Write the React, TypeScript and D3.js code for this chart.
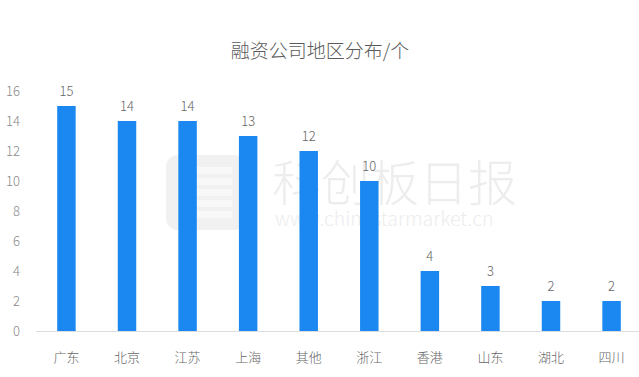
import React from "react";
import * as d3 from "d3";

const categories = ["广东", "北京", "江苏", "上海", "其他", "浙江", "香港", "山东", "湖北", "四川"];
const values = [15, 14, 14, 13, 12, 10, 4, 3, 2, 2];
const yTicks = [0, 2, 4, 6, 8, 10, 12, 14, 16];
const title = "融资公司地区分布/个";

const W = 639;
const H = 377;
const FONT = "'Noto Sans CJK SC', 'Noto Sans', sans-serif";

export default function App() {
  const x = d3.scaleBand<string>().domain(categories).range([36, 642]).paddingInner(0.695).paddingOuter(0.35);
  const y = d3.scaleLinear().domain([0, 16]).range([331, 91]);
  return (
    <svg width={W} height={H} style={{ position: "absolute", left: 0, top: 0 }} fontFamily={FONT} fontWeight={300}>
      <rect width={W} height={H} fill="#fff" />
      {/* watermark */}
      <g opacity={0.5}>
        <rect x={166} y={155} width={80} height={75} rx={12} fill="#e4e4e4" />
        {[0, 1, 2, 3, 4].map((i) => (
          <rect key={i} x={180} y={167 + i * 11} width={52} height={7} fill="#f3f3f3" />
        ))}
        <text x={272} y={201} fontSize={49} fill="#dcdcdc">科创板日报</text>
        <text x={275} y={226} fontSize={19.5} fill="#dcdcdc">www.chinastarmarket.cn</text>
      </g>
      <text x={320} y={58} textAnchor="middle" fontSize={19} fill="#5a5a5a">{title}</text>
      {yTicks.map((t) => (
        <text key={t} x={20} y={y(t)} dy="0.35em" textAnchor="end" fontSize={13} fill="#8a8a8a">{t}</text>
      ))}
      <line x1={36} x2={639} y1={331.5} y2={331.5} stroke="#ddd" />
      {categories.map((c, i) => (
        <g key={c}>
          <rect x={x(c)} y={y(values[i])} width={x.bandwidth()} height={y(0) - y(values[i])} fill="#1a88f0" />
          <text x={(x(c) as number) + x.bandwidth() / 2} y={y(values[i]) - 10} textAnchor="middle" fontSize={13} fill="#666">{values[i]}</text>
          <text x={(x(c) as number) + x.bandwidth() / 2} y={362} textAnchor="middle" fontSize={13} fill="#666">{c}</text>
        </g>
      ))}
    </svg>
  );
}
